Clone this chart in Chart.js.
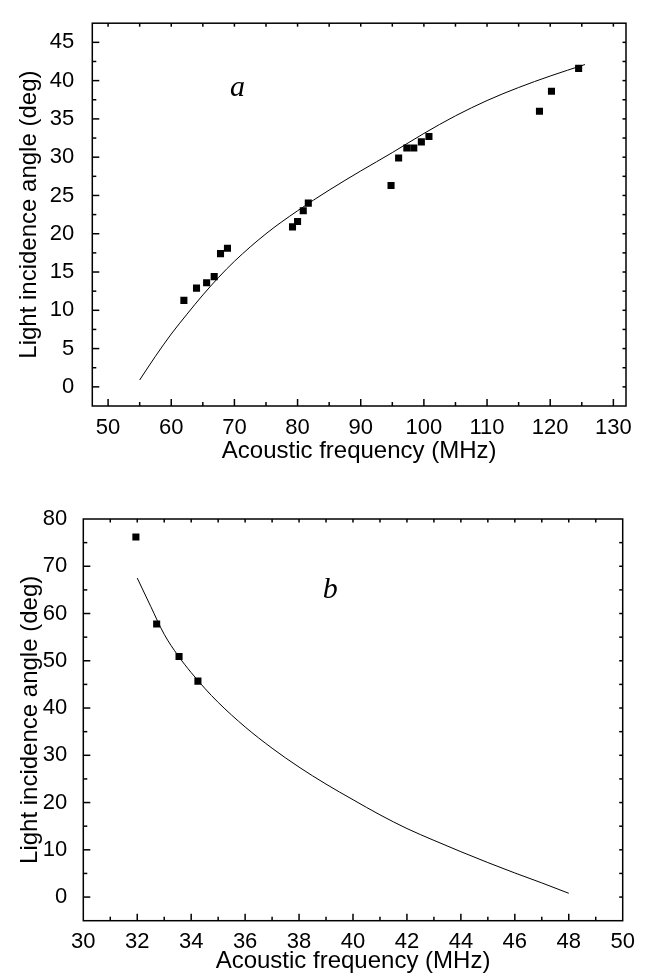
<!DOCTYPE html>
<html>
<head>
<meta charset="utf-8">
<script src="https://cdn.jsdelivr.net/npm/chart.js@4.4.1/dist/chart.umd.min.js"></script>
<style>
html, body { margin: 0; padding: 0; background: #fff; }
#wrap { position: relative; width: 650px; height: 976px; }
canvas { position: absolute; left: 0; }
#c1 { top: 0; }
#c2 { top: 480px; }
</style>
</head>
<body>
<div id="wrap">
  <canvas id="c1" width="650" height="480"></canvas>
  <canvas id="c2" width="650" height="496"></canvas>
</div>
<script>
// ---------- Panel a ----------
const freqA  = [62.0, 64.0, 65.6, 66.8, 67.8, 68.9, 79.2, 80.0, 80.9, 81.7, 94.8, 96.0, 97.3, 98.4, 99.6, 100.8, 118.3, 120.2, 124.5];
const angleA = [11.3, 12.9, 13.6, 14.4, 17.4, 18.1, 20.9, 21.6, 23.0, 24.0, 26.3, 29.9, 31.2, 31.2, 32.0, 32.7, 36.0, 38.6, 41.6];
const fitFreqA  = [55, 57.5, 60, 62.5, 65, 67.5, 70, 75, 80, 85, 90, 95, 100, 105, 110, 115, 120, 125.5];
const fitAngleA = [0.9, 4.0, 6.9, 9.5, 12.0, 14.3, 16.4, 20.0, 23.0, 25.7, 28.2, 30.6, 33.1, 35.4, 37.4, 39.1, 40.6, 42.1];
const xTicksA = [50, 60, 70, 80, 90, 100, 110, 120, 130];
const yTicksA = [0, 5, 10, 15, 20, 25, 30, 35, 40, 45];

// ---------- Panel b ----------
const freqB  = [31.95, 32.72, 33.55, 34.25];
const angleB = [76.2, 57.8, 50.9, 45.7];
const fitFreqB  = [32.0, 32.5, 33.0, 33.5, 34.0, 34.5, 35.0, 36.0, 37.0, 38.0, 39.0, 40.0, 41.0, 42.0, 43.0, 44.0, 45.0, 46.0, 47.0, 48.0];
const fitAngleB = [67.5, 61.5, 55.6, 51.2, 47.5, 44.2, 41.2, 36.0, 31.5, 27.5, 23.9, 20.6, 17.4, 14.5, 12.0, 9.6, 7.3, 5.1, 3.0, 0.8];
const xTicksB = [30, 32, 34, 36, 38, 40, 42, 44, 46, 48, 50];
const yTicksB = [0, 10, 20, 30, 40, 50, 60, 70, 80];

const xTitle = 'Acoustic frequency (MHz)';
const yTitle = 'Light incidence angle (deg)';

const FONT = "'Liberation Sans', Arial, sans-serif";

const mids = arr => arr.slice(1).map((v, i) => (v + arr[i]) / 2);

const framePlugin = {
  id: 'frame',
  afterDraw(chart, args, o) {
    const { ctx, chartArea: a, scales } = chart;
    const x = scales.x, y = scales.y;
    ctx.save();
    ctx.strokeStyle = '#000';
    ctx.lineWidth = 1.5;
    const seg = (x1, y1, x2, y2) => { ctx.beginPath(); ctx.moveTo(x1, y1); ctx.lineTo(x2, y2); ctx.stroke(); };
    const inX = v => v > x.min && v < x.max;
    const inY = v => v > y.min && v < y.max;
    const xMinor = mids(o.xMajor), yMinor = mids(o.yMajor);
    o.xMajor.filter(inX).forEach(v => { const p = x.getPixelForValue(v); seg(p, a.bottom, p, a.bottom - o.major); seg(p, a.top, p, a.top + o.mirror); });
    xMinor.filter(inX).forEach(v => { const p = x.getPixelForValue(v); seg(p, a.bottom, p, a.bottom - o.minor); seg(p, a.top, p, a.top + o.mirror); });
    o.yMajor.filter(inY).forEach(v => { const p = y.getPixelForValue(v); seg(a.left, p, a.left + o.major, p); seg(a.right, p, a.right - o.mirror, p); });
    yMinor.filter(inY).forEach(v => { const p = y.getPixelForValue(v); seg(a.left, p, a.left + o.minor, p); seg(a.right, p, a.right - o.mirror, p); });
    ctx.strokeRect(a.left, a.top, a.right - a.left, a.bottom - a.top);
    ctx.fillStyle = '#000';
    ctx.font = "italic 30px 'Liberation Serif', 'Times New Roman', serif";
    ctx.textAlign = 'center';
    ctx.textBaseline = 'middle';
    ctx.fillText(o.label, x.getPixelForValue(o.labelX), y.getPixelForValue(o.labelY));
    ctx.restore();
  }
};

function build(id, p) {
  return new Chart(document.getElementById(id), {
    type: 'scatter',
    data: {
      datasets: [
        {
          data: p.fitX.map((v, i) => ({ x: v, y: p.fitY[i] })),
          showLine: true, borderColor: '#000', borderWidth: 1, pointRadius: 0,
          cubicInterpolationMode: 'monotone', fill: false, order: 2
        },
        {
          data: p.ptX.map((v, i) => ({ x: v, y: p.ptY[i] })),
          pointStyle: 'rect', pointRadius: 5, backgroundColor: '#000', borderColor: '#000',
          borderWidth: 0, order: 1
        }
      ]
    },
    options: {
      responsive: false, animation: false, devicePixelRatio: 1,
      layout: { padding: p.pad },
      plugins: {
        legend: { display: false }, tooltip: { enabled: false },
        frame: { xMajor: p.xTicks, yMajor: p.yTicks, major: 7, minor: 4, mirror: 3.5,
                 label: p.label, labelX: p.labelX, labelY: p.labelY }
      },
      scales: {
        x: {
          type: 'linear', min: p.xMin, max: p.xMax,
          grid: { display: false }, border: { display: false },
          afterBuildTicks: s => { s.ticks = p.xTicks.map(v => ({ value: v })); },
          afterFit: s => { s.height = p.xH; },
          ticks: { font: { family: FONT, size: 22 }, color: '#000', padding: p.xTickPad, maxRotation: 0, autoSkip: false },
          title: { display: true, text: xTitle, color: '#000', font: { family: FONT, size: 24 }, padding: { top: 0, bottom: p.xTitlePad } }
        },
        y: {
          type: 'linear', min: p.yMin, max: p.yMax,
          grid: { display: false }, border: { display: false },
          afterBuildTicks: s => { s.ticks = p.yTicks.map(v => ({ value: v })); },
          afterFit: s => { s.width = p.yW; },
          ticks: { font: { family: FONT, size: 22 }, color: '#000', padding: p.yTickPad, autoSkip: false },
          title: { display: true, text: yTitle, color: '#000', font: { family: FONT, size: 24 }, padding: { top: p.yTitlePad, bottom: 0 } }
        }
      }
    },
    plugins: [framePlugin]
  });
}

build('c1', {
  fitX: fitFreqA, fitY: fitAngleA, ptX: freqA, ptY: angleA,
  xTicks: xTicksA, yTicks: yTicksA,
  xMin: 47.5, xMax: 132, yMin: -2.5, yMax: 47.5,
  pad: { left: 0, right: 24, top: 10, bottom: 0 },
  xH: 74, yW: 92.3, xTickPad: 1, yTickPad: 10, xTitlePad: 14.6, yTitlePad: 14.6,
  label: 'a', labelX: 70.5, labelY: 39.0
});

build('c2', {
  fitX: fitFreqB, fitY: fitAngleB, ptX: freqB, ptY: angleB,
  xTicks: xTicksB, yTicks: yTicksB,
  xMin: 30, xMax: 50, yMin: -5, yMax: 80,
  pad: { left: 0, right: 27.3, top: 39, bottom: 0 },
  xH: 55.3, yW: 83.3, xTickPad: 0, yTickPad: 8, xTitlePad: 0, yTitlePad: 15.6,
  label: 'b', labelX: 39.16, labelY: 65.0
});
</script>
</body>
</html>
